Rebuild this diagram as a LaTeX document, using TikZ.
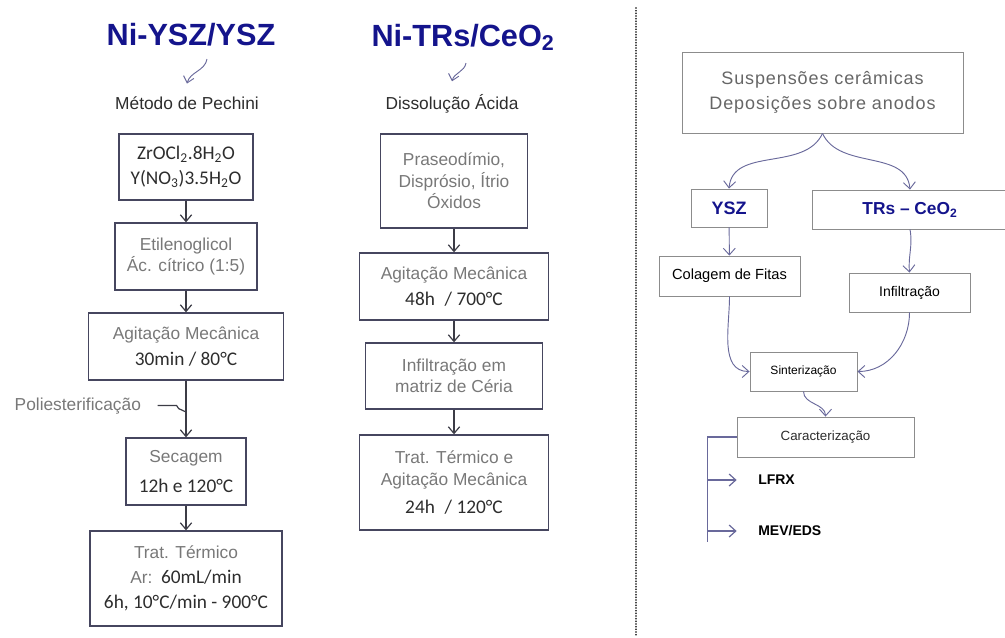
\documentclass[tikz,border=0pt]{standalone}
\usepackage{fontspec}
\setmainfont{Liberation Sans}
\newfontfamily\calfont{Carlito}
\newfontfamily\widefont{Liberation Sans}[LetterSpace=5]
\usetikzlibrary{arrows.meta, positioning}
\definecolor{navytitle}{RGB}{20, 20, 140}
\definecolor{boxline}{RGB}{70, 70, 95}
\definecolor{arrowgray}{RGB}{60, 60, 70}
\definecolor{softgray}{RGB}{120, 120, 120}
\definecolor{darktext}{RGB}{45, 45, 45}
\definecolor{lilac}{RGB}{105, 105, 155}
\definecolor{rboxline}{RGB}{140, 140, 140}
\newcommand{\nm}[1]{{\calfont\fontsize{14.5}{17}\selectfont\color{darktext}#1}}

\begin{document}
\begin{tikzpicture}[x=0.75pt, y=-0.75pt,
        wh/.style 2 args={minimum width=#1*0.75pt, minimum height=#2*0.75pt},
        box/.style={draw=boxline, line width=1pt, inner sep=0pt,
                     align=center, text=softgray, font=\fontsize{13}{16}\selectfont},
        rbox/.style={draw=rboxline, line width=0.7pt, inner sep=0pt,
                     align=center, font=\fontsize{10.5}{13}\selectfont},
        ttl/.style={anchor=base, text=navytitle, font=\fontsize{23}{27}\selectfont\bfseries},
        sub/.style={anchor=base, text=darktext, font=\fontsize{13}{16}\selectfont},
        arr/.style={-{Straight Barb[length=5pt,width=8.5pt]}, line width=0.9pt, arrowgray},
        rarr/.style={-{Straight Barb[length=5pt,width=9pt]}, line width=0.7pt, lilac}
      ]
        \useasboundingbox (0,0) rectangle (1005,637);

        \node[ttl] (ttlA) at (191,45) {Ni-YSZ/YSZ};
        \node[sub] (pech) at (187,109) {Método de Pechini};
        \node[box, wh={134}{66}] (z1) at (186,167)
          {\nm{ZrOCl\textsubscript{2}.8H\textsubscript{2}O}\\[3pt]\nm{Y(NO\textsubscript{3})3.5H\textsubscript{2}O}};
        \node[box, wh={142}{67}] (z2) at (186,256.5) {Etilenoglicol\\Ác. cítrico (1:5)};
        \node[box, wh={195}{67}] (z3) at (186,346.5) {Agitação Mecânica\\[3pt]\nm{30min / 80°C}};
        \node[box, wh={120}{67}] (z4) at (186,471.5) {Secagem\\[6pt]\nm{12h e 120°C}};
        \node[box, wh={192}{95}] (z5) at (186,578.5)
          {Trat. Térmico\\[3pt]Ar:\enspace\nm{60mL/min}\\[3pt]\nm{6h, 10°C/min - 900°C}};
        \node[sub, anchor=base west, text=softgray] (poli) at (10,410) {Poliesterificação};
        \coordinate (pj) at (186,412);
        \coordinate (chkA) at (207,59);
        \draw[arr] (z1) -- (z2);
        \draw[arr] (z2) -- (z3);
        \draw[arr] (z3) -- (z4);
        \draw[arr] (z4) -- (z5);
        \draw[arrowgray, line width=0.9pt] ([xshift=9pt]poli.east) -- ++(19,0) -- ++(2,3) -- (pj);
        \draw[rarr, line width=0.7pt, -{Straight Barb[length=4.5pt,width=8pt]}]
          (chkA) to[out=-100, in=75] ([yshift=6pt]pech.north);

        \node[ttl] (ttlB) at (463,46) {Ni-TRs/CeO\textsubscript{2}};
        \node[sub] (diss) at (452,109) {Dissolução Ácida};
        \node[box, wh={147}{94}] (tA) at (454,181) {Praseodímio,\\Disprósio, Ítrio\\Óxidos};
        \node[box, wh={189}{67}] (tB) at (454,286.5) {Agitação Mecânica\\[3pt]\nm{48h\enspace/ 700°C}};
        \node[box, wh={177}{66}] (tC) at (454,376) {Infiltração em\\matriz de Céria};
        \node[box, wh={189}{95}] (tD) at (454,482.5)
          {Trat. Térmico e\\[1pt]Agitação Mecânica\\[5pt]\nm{24h\enspace/ 120°C}};
        \coordinate (chkB) at (466,63);
        \draw[arr] (tA) -- (tB);
        \draw[arr] (tB) -- (tC);
        \draw[arr] (tC) -- (tD);
        \draw[rarr, line width=0.7pt, -{Straight Barb[length=4.5pt,width=8pt]}]
          (chkB) to[out=-100, in=75] ([yshift=6pt]diss.north);

        \draw[line width=1.3pt, dash pattern=on 0pt off 2pt, line cap=round] (636,8) -- (636,637);

        \node[rbox, wh={281}{81}, text=softgray!85!black, font=\widefont\fontsize{13.5}{19}\selectfont]
          (susp) at (822.5,92.5) {Suspensões cerâmicas\\Deposições sobre anodos};
        \node[rbox, wh={76}{38}, text=navytitle, font=\fontsize{13.5}{16}\selectfont\bfseries]
          (ysz) at (729,208) {YSZ};
        \node[rbox, wh={196}{39}, text=navytitle, font=\fontsize{13}{16}\selectfont\bfseries]
          (trs) at (910,209.5) {TRs -- CeO\textsubscript{2}};
        \node[rbox, wh={141}{40}, font=\fontsize{11}{13}\selectfont] (colag) at (729.5,276) {Colagem de Fitas};
        \node[rbox, wh={121}{39}] (infil) at (909.5,292.5) {Infiltração};
        \node[rbox, wh={107}{39}, font=\fontsize{9}{11}\selectfont] (sint) at (803.5,371.5) {Sinterização};
        \node[rbox, wh={177}{40}, text=darktext, font=\fontsize{10}{12}\selectfont] (carac) at (825.5,437) {Caracterização};
        \node[anchor=west, inner sep=0pt, font=\fontsize{10.5}{12}\selectfont\bfseries] (lfrx) at (758,480) {LFRX};
        \node[anchor=west, inner sep=0pt, font=\fontsize{10.5}{12}\selectfont\bfseries] (mev) at (758,531) {MEV/EDS};
        \draw[rarr] (susp.south) to[out=-115, in=85] (ysz.north);
        \draw[rarr] (susp.south) to[out=-65, in=95] (trs.north);
        \draw[rarr] (ysz) -- (colag);
        \draw[rarr] (trs.south) to[out=-80, in=95] (infil.north);
        \draw[rarr] (colag.south) to[out=-90, in=180] (sint.west);
        \draw[rarr] (infil.south) to[out=-90, in=0] (sint.east);
        \draw[rarr] (sint.south) to[out=-90, in=90] (carac.north);
        \draw[lilac, line width=0.9pt] (carac.west) -- ++(-29,0) coordinate (brk) -- ++(0,105);
        \draw[rarr, line width=0.9pt] (brk |- lfrx.west) -- ([xshift=-16pt]lfrx.west);
        \draw[rarr, line width=0.9pt] (brk |- mev.west) -- ([xshift=-16pt]mev.west);
      \end{tikzpicture}
\end{document}
